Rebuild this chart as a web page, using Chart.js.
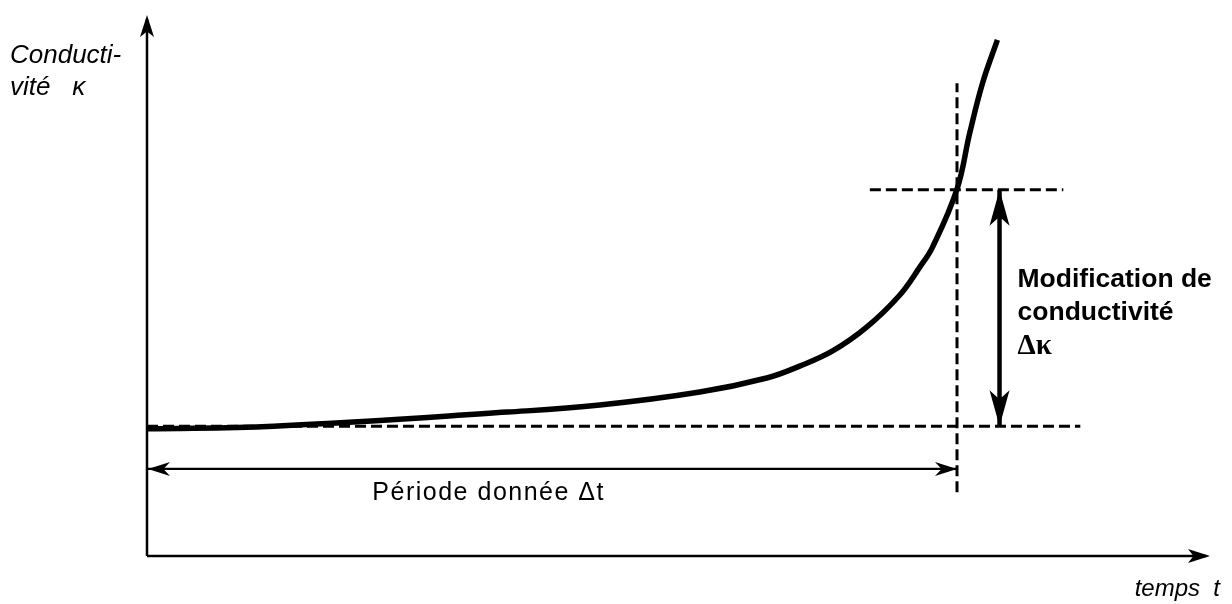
<!DOCTYPE html>
<html>
<head>
<meta charset="utf-8">
<script src="https://cdn.jsdelivr.net/npm/chart.js@4"></script>
<style>
  body { margin: 0; background: #fff; }
  canvas { display: block; }
</style>
</head>
<body>
<canvas id="myChart" width="1232" height="604"></canvas>
<script>
// curve (t and kappa in arbitrary units, 0..100)
const tValues     = [0, 11.9, 33.9, 42.6, 52.0, 58.3, 61.4, 64.5, 67.7, 70.8, 72.7, 73.9, 76.2, 77.4, 78.6, 80.0];
const kappaValues = [23.5, 24.0, 26.6, 27.9, 30.3, 32.9, 35.1, 37.9, 42.3, 48.2, 53.4, 57.1, 67.8, 78.2, 87.4, 95.4];

// guide levels
const tStart = 0;
const tEnd = 76.2;
const kappaStart = 24.0;
const kappaEnd = 67.7;
const lowerGuideEnd = 87.8;
const upperGuideRange = [68.0, 86.2];
const verticalGuideRange = [11.8, 87.4];
const deltaTLevel = 16.1;
const deltaKappaPos = 80.2;

const xLabel = 'temps  t';
const yLabel = ['Conducti-', 'vité   \u03ba'];
const deltaTLabel = 'Période donnée \u0394t';
const deltaKappaLabel = ['Modification de', 'conductivité'];
const deltaKappaSymbol = '\u0394\u03ba';

const curve = tValues.map((t, i) => ({ x: t, y: kappaValues[i] }));

function arrowHead(ctx, x, y, angle, len, half, notch)
{
    ctx.save();
    ctx.translate(x, y);
    ctx.rotate(angle);
    ctx.beginPath();
    ctx.moveTo(0, 0);
    ctx.lineTo(-len, -half);
    ctx.lineTo(-len * notch, 0);
    ctx.lineTo(-len, half);
    ctx.closePath();
    ctx.fill();
    ctx.restore();
}

const decorations = {
    id: 'decorations',
    afterDatasetsDraw(chart)
    {
        const ctx = chart.ctx;
        const a = chart.chartArea;
        ctx.save();
        ctx.fillStyle = '#000';
        ctx.strokeStyle = '#000';

        // axes
        ctx.lineWidth = 2.5;
        ctx.beginPath();
        ctx.moveTo(a.left, a.bottom);
        ctx.lineTo(a.left, a.top + 4);
        ctx.moveTo(a.left, a.bottom);
        ctx.lineTo(a.right - 4, a.bottom);
        ctx.stroke();
        arrowHead(ctx, a.left, a.top, -Math.PI / 2, 22, 7, 0.75);
        arrowHead(ctx, a.right, a.bottom, 0, 22, 7, 0.75);

        // arrow heads on the delta t and delta kappa lines
        const dt = chart.getDatasetMeta(4).data;
        arrowHead(ctx, dt[0].x + 1, dt[0].y, Math.PI, 22, 7, 0.7);
        arrowHead(ctx, dt[1].x, dt[1].y, 0, 22, 7, 0.7);
        const dk = chart.getDatasetMeta(5).data;
        arrowHead(ctx, dk[0].x, dk[0].y, -Math.PI / 2, 36, 10, 0.75);
        arrowHead(ctx, dk[1].x, dk[1].y, Math.PI / 2, 36, 10, 0.75);

        // labels
        ctx.textBaseline = 'alphabetic';
        ctx.textAlign = 'left';
        ctx.font = 'italic 26px "Liberation Sans", Arial, sans-serif';
        ctx.fillText(yLabel[0], 10, 63);
        ctx.fillText(yLabel[1], 10, 95);
        ctx.font = 'italic 24px "Liberation Sans", Arial, sans-serif';
        ctx.textAlign = 'right';
        ctx.fillText(xLabel, 1220, 596);

        const xs = chart.scales.x;
        const ys = chart.scales.y;
        ctx.textAlign = 'left';
        ctx.font = '25px "Liberation Sans", Arial, sans-serif';
        ctx.letterSpacing = '1.5px';
        ctx.fillText(deltaTLabel, xs.getPixelForValue(21.2), ys.getPixelForValue(deltaTLevel) + 31);

        ctx.letterSpacing = '0px';
        ctx.font = 'bold 26.5px "Liberation Sans", Arial, sans-serif';
        const tx = xs.getPixelForValue(deltaKappaPos) + 18;
        ctx.fillText(deltaKappaLabel[0], tx, 287);
        ctx.fillText(deltaKappaLabel[1], tx, 320);
        ctx.font = 'bold 29px "Liberation Serif", "DejaVu Serif", serif';
        ctx.fillText(deltaKappaSymbol, tx, 354);
        ctx.restore();
    }
};

const dashed = { borderColor: '#000', borderWidth: 3, borderDash: [11, 5], pointRadius: 0, showLine: true, clip: false };

new Chart(document.getElementById('myChart'), {
    type: 'scatter',
    data: {
        datasets: [
            {
                data: curve,
                showLine: true,
                borderColor: '#000',
                borderWidth: 5.5,
                pointRadius: 0,
                tension: 0.4,
                clip: false
            },
            Object.assign({ data: [{ x: tStart, y: kappaStart }, { x: lowerGuideEnd, y: kappaStart }] }, dashed),
            Object.assign({ data: [{ x: upperGuideRange[0], y: kappaEnd }, { x: upperGuideRange[1], y: kappaEnd }] }, dashed),
            Object.assign({ data: [{ x: tEnd, y: verticalGuideRange[0] }, { x: tEnd, y: verticalGuideRange[1] }] }, dashed),
            {
                data: [{ x: tStart, y: deltaTLevel }, { x: tEnd, y: deltaTLevel }],
                showLine: true, borderColor: '#000', borderWidth: 2.2, pointRadius: 0, clip: false
            },
            {
                data: [{ x: deltaKappaPos, y: kappaEnd }, { x: deltaKappaPos, y: kappaStart }],
                showLine: true, borderColor: '#000', borderWidth: 4.5, pointRadius: 0, clip: false
            }
        ]
    },
    options: {
        responsive: false,
        animation: false,
        events: [],
        layout: { padding: { left: 147, right: 22, top: 15, bottom: 48 } },
        plugins: { legend: { display: false }, tooltip: { enabled: false } },
        scales: {
            x: { type: 'linear', min: 0, max: 100, display: false },
            y: { type: 'linear', min: 0, max: 100, display: false }
        }
    },
    plugins: [decorations]
});
</script>
</body>
</html>
